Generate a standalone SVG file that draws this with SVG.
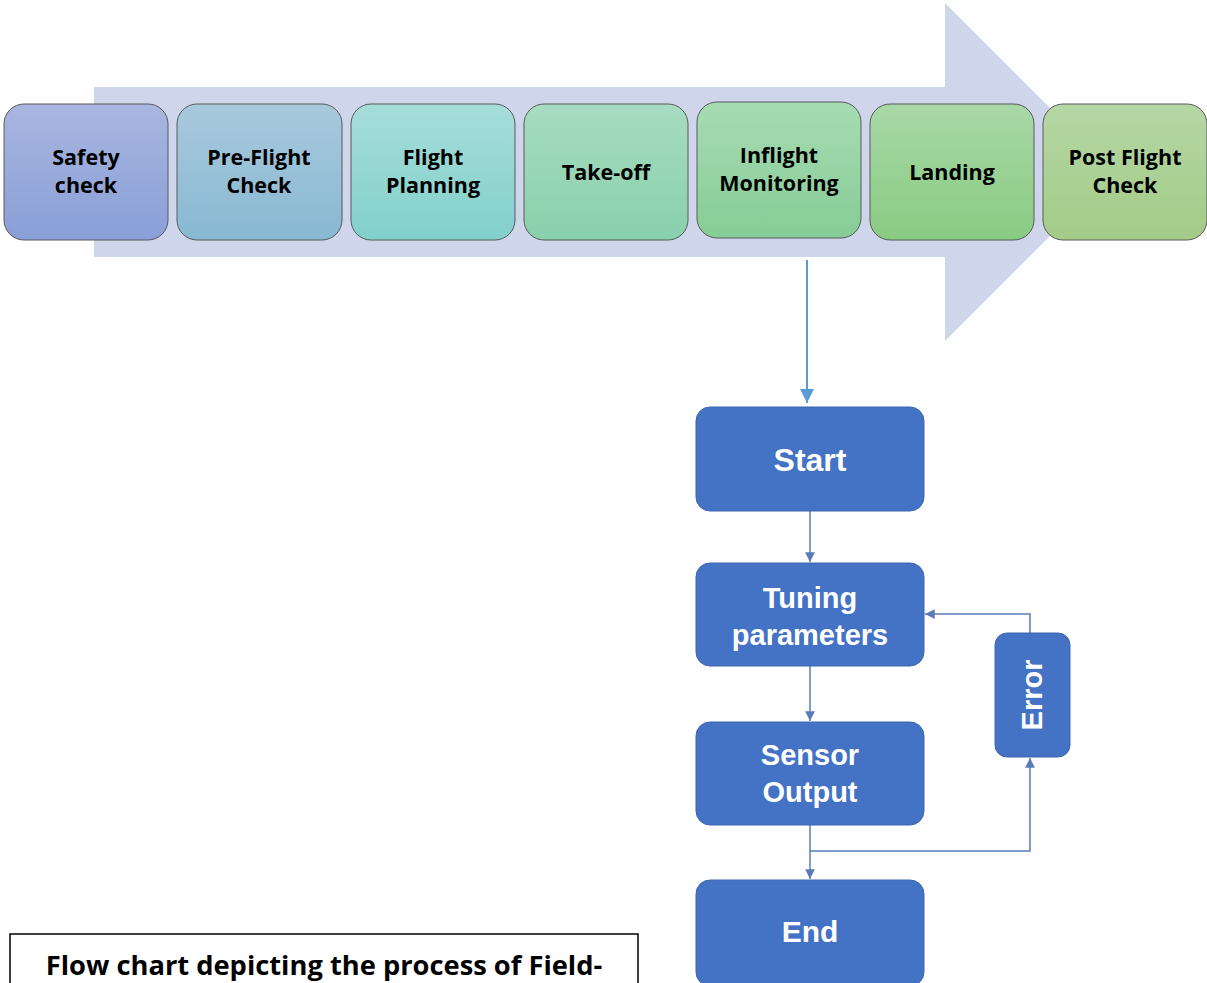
<svg xmlns="http://www.w3.org/2000/svg" width="1207" height="983" viewBox="0 0 1207 983">
  <style>
    .stage { stroke: #5a5a5a; stroke-width: 1; }
    .stage-text { font-family: "Open Sans", Lato, "Liberation Sans", sans-serif; font-weight: bold; font-size: 21.5px; fill: #000; text-anchor: middle; }
    .flow { fill: #4472c4; stroke: #3d67b3; stroke-width: 1; }
    .flow-text { font-family: "Liberation Sans", Arial, sans-serif; font-weight: bold; fill: #fff; text-anchor: middle; }
    .link { fill: none; stroke: #5b7bb8; stroke-width: 1.5; }
    .caption { font-family: "Open Sans", Lato, "Liberation Sans", sans-serif; font-weight: bold; font-size: 27.3px; fill: #000; text-anchor: middle; }
  </style>
  <defs>
    <linearGradient id="g1" x1="0" y1="0" x2="0" y2="1"><stop offset="0" stop-color="#a9b6e0"/><stop offset="1" stop-color="#899fd7"/></linearGradient>
    <linearGradient id="g2" x1="0" y1="0" x2="0" y2="1"><stop offset="0" stop-color="#a8c9dc"/><stop offset="1" stop-color="#88b8d3"/></linearGradient>
    <linearGradient id="g3" x1="0" y1="0" x2="0" y2="1"><stop offset="0" stop-color="#a6ddd9"/><stop offset="1" stop-color="#82d0cb"/></linearGradient>
    <linearGradient id="g4" x1="0" y1="0" x2="0" y2="1"><stop offset="0" stop-color="#a7dcc1"/><stop offset="1" stop-color="#88d0ab"/></linearGradient>
    <linearGradient id="g5" x1="0" y1="0" x2="0" y2="1"><stop offset="0" stop-color="#a7dcb3"/><stop offset="1" stop-color="#86cc96"/></linearGradient>
    <linearGradient id="g6" x1="0" y1="0" x2="0" y2="1"><stop offset="0" stop-color="#a9d8a6"/><stop offset="1" stop-color="#88cb83"/></linearGradient>
    <linearGradient id="g7" x1="0" y1="0" x2="0" y2="1"><stop offset="0" stop-color="#b5d7a5"/><stop offset="1" stop-color="#a3cb87"/></linearGradient>
    <marker id="head-big" viewBox="0 0 10 10" refX="10" refY="5" markerWidth="7" markerHeight="7" markerUnits="strokeWidth" orient="auto">
      <path d="M0,0 L10,5 L0,10 Z" fill="#5b9bd5"/>
    </marker>
    <marker id="head" viewBox="0 0 10 10" refX="10" refY="5" markerWidth="6.5" markerHeight="6.5" markerUnits="strokeWidth" orient="auto">
      <path d="M0,0 L10,5 L0,10 Z" fill="#5b7bb8"/>
    </marker>
  </defs>

  <rect width="1207" height="983" fill="#ffffff"/>

  <!-- background process arrow (45° head) -->
  <path id="process-arrow" d="M94,87 H945 V3 L1114,172 L945,341 V257 H94 Z" fill="#cfd5ea"/>

  <!-- process stages -->
  <g id="safety-check"><rect class="stage" x="4" y="104" width="164" height="136" rx="20" fill="url(#g1)"/>
    <text class="stage-text" x="86" y="165">Safety</text><text class="stage-text" x="86" y="193">check</text></g>
  <g id="pre-flight-check"><rect class="stage" x="177" y="104" width="165" height="136" rx="20" fill="url(#g2)"/>
    <text class="stage-text" x="259" y="165">Pre-Flight</text><text class="stage-text" x="259" y="193">Check</text></g>
  <g id="flight-planning"><rect class="stage" x="351" y="104" width="164" height="136" rx="20" fill="url(#g3)"/>
    <text class="stage-text" x="433" y="165">Flight</text><text class="stage-text" x="433" y="193">Planning</text></g>
  <g id="take-off"><rect class="stage" x="524" y="104" width="164" height="136" rx="20" fill="url(#g4)"/>
    <text class="stage-text" x="606" y="180">Take-off</text></g>
  <g id="inflight-monitoring"><rect class="stage" x="697" y="102" width="164" height="136" rx="20" fill="url(#g5)"/>
    <text class="stage-text" x="779" y="163">Inflight</text><text class="stage-text" x="779" y="191">Monitoring</text></g>
  <g id="landing"><rect class="stage" x="870" y="104" width="164" height="136" rx="20" fill="url(#g6)"/>
    <text class="stage-text" x="952" y="180">Landing</text></g>
  <g id="post-flight-check"><rect class="stage" x="1043" y="104" width="164" height="136" rx="20" fill="url(#g7)"/>
    <text class="stage-text" x="1125" y="165">Post Flight</text><text class="stage-text" x="1125" y="193">Check</text></g>

  <!-- connectors -->
  <g id="connectors">
    <line x1="807" y1="260" x2="807" y2="403" stroke="#5b9bd5" stroke-width="2" marker-end="url(#head-big)"/>
    <line class="link" x1="810" y1="511" x2="810" y2="562" marker-end="url(#head)"/>
    <line class="link" x1="810" y1="666" x2="810" y2="721" marker-end="url(#head)"/>
    <line class="link" x1="810" y1="825" x2="810" y2="879" marker-end="url(#head)"/>
    <polyline class="link" points="810,851 1030,851 1030,758" marker-end="url(#head)"/>
    <polyline class="link" points="1030,633 1030,614 925,614" marker-end="url(#head)"/>
  </g>

  <!-- tuning loop -->
  <g id="start"><rect class="flow" x="696" y="407" width="228" height="104" rx="14"/>
    <text class="flow-text" x="810" y="471" font-size="32">Start</text></g>
  <g id="tuning-parameters"><rect class="flow" x="696" y="563" width="228" height="103" rx="14"/>
    <text class="flow-text" x="810" y="608" font-size="29">Tuning</text><text class="flow-text" x="810" y="645" font-size="29">parameters</text></g>
  <g id="sensor-output"><rect class="flow" x="696" y="722" width="228" height="103" rx="14"/>
    <text class="flow-text" x="810" y="765" font-size="29">Sensor</text><text class="flow-text" x="810" y="802" font-size="29">Output</text></g>
  <g id="end"><rect class="flow" x="696" y="880" width="228" height="106" rx="14"/>
    <text class="flow-text" x="810" y="942" font-size="30">End</text></g>
  <g id="error"><rect class="flow" x="995" y="633" width="75" height="124" rx="12"/>
    <text class="flow-text" x="0" y="0" font-size="29" transform="translate(1042,695) rotate(-90)">Error</text></g>

  <!-- caption -->
  <g id="caption">
    <rect x="10" y="934" width="628" height="60" fill="#fff" stroke="#000" stroke-width="1.5"/>
    <text class="caption" x="324" y="975">Flow chart depicting the process of Field-</text>
  </g>
</svg>
